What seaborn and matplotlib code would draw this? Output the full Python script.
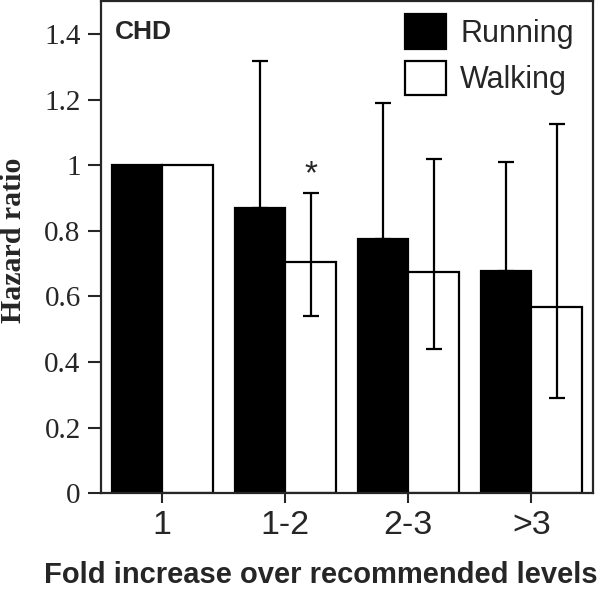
import numpy as np
import pandas as pd
import matplotlib
matplotlib.use("Agg")
import matplotlib.pyplot as plt
import seaborn as sns

levels = ["1", "1-2", "2-3", ">3"]
running = [1.0, 0.87, 0.775, 0.677]
walking = [1.0, 0.705, 0.675, 0.568]
running_hi = [np.nan, 1.317, 1.19, 1.009]
walking_lo = [np.nan, 0.54, 0.44, 0.29]
walking_hi = [np.nan, 0.914, 1.019, 1.124]

df = pd.DataFrame({
    "level": levels * 2,
    "hr": running + walking,
    "activity": ["Running"] * 4 + ["Walking"] * 4,
})

sns.set_style("ticks")
plt.rcParams["font.family"] = ["Liberation Sans", "DejaVu Sans"]

fig = plt.figure(figsize=(6, 5.92), dpi=100)
ax = fig.add_axes([0.168, 0.167, 0.82, 0.831])

sns.barplot(data=df, x="level", y="hr", hue="activity",
            palette={"Running": "black", "Walking": "white"},
            edgecolor="black", linewidth=1.6, saturation=1,
            errorbar=None, width=0.82, ax=ax)

run_bars = ax.containers[0]
walk_bars = ax.containers[1]

for i in range(1, 4):
    b = run_bars[i]
    xc = b.get_x() + b.get_width() / 2
    ax.errorbar(xc, running[i], yerr=[[0], [running_hi[i] - running[i]]],
                fmt="none", ecolor="black", elinewidth=1.6, capsize=6,
                capthick=1.6, zorder=5)
    b = walk_bars[i]
    xc = b.get_x() + b.get_width() / 2
    ax.errorbar(xc, walking[i],
                yerr=[[walking[i] - walking_lo[i]], [walking_hi[i] - walking[i]]],
                fmt="none", ecolor="black", elinewidth=1.6, capsize=6,
                capthick=1.6, zorder=5)

# significance mark
b = walk_bars[1]
ax.text(b.get_x() + b.get_width() / 2, walking_hi[1] + 0.008, "*",
        ha="center", va="bottom", fontsize=24)

ax.set_xlim(-0.5, 3.5)
ax.set_ylim(0, 1.5)
ax.set_yticks([0, 0.2, 0.4, 0.6, 0.8, 1.0, 1.2, 1.4])
ax.set_yticklabels(["0", "0.2", "0.4", "0.6", "0.8", "1", "1.2", "1.4"],
                   family="Liberation Serif", fontsize=21)
ax.set_xticks(range(4))
ax.set_xticklabels(levels, fontsize=24.5)
ax.tick_params(axis="y", length=9.5, width=1.5, pad=5)
ax.tick_params(axis="x", length=7, width=1.5, pad=5)

for s in ax.spines.values():
    s.set_visible(True)
    s.set_linewidth(1.6)

ax.set_ylabel("Hazard ratio", family="Liberation Serif", fontweight="bold",
              fontsize=21.5)
ax.yaxis.set_label_coords(-0.149, 0.514)
ax.set_xlabel("Fold increase over recommended levels", fontweight="bold",
              fontsize=21)
ax.xaxis.set_label_coords(0.447, -0.137)

ax.text(0.028, 0.962, "CHD", transform=ax.transAxes, fontsize=19,
        fontweight="bold", ha="left", va="top")

handles, labels = ax.get_legend_handles_labels()
ax.legend(handles, labels, loc="upper right", bbox_to_anchor=(0.986, 0.998),
          frameon=False, fontsize=22,
          handlelength=1.35, handleheight=1.35, handletextpad=0.45,
          labelspacing=0.4, borderaxespad=0.0)

fig.savefig("out.png", dpi=100)
